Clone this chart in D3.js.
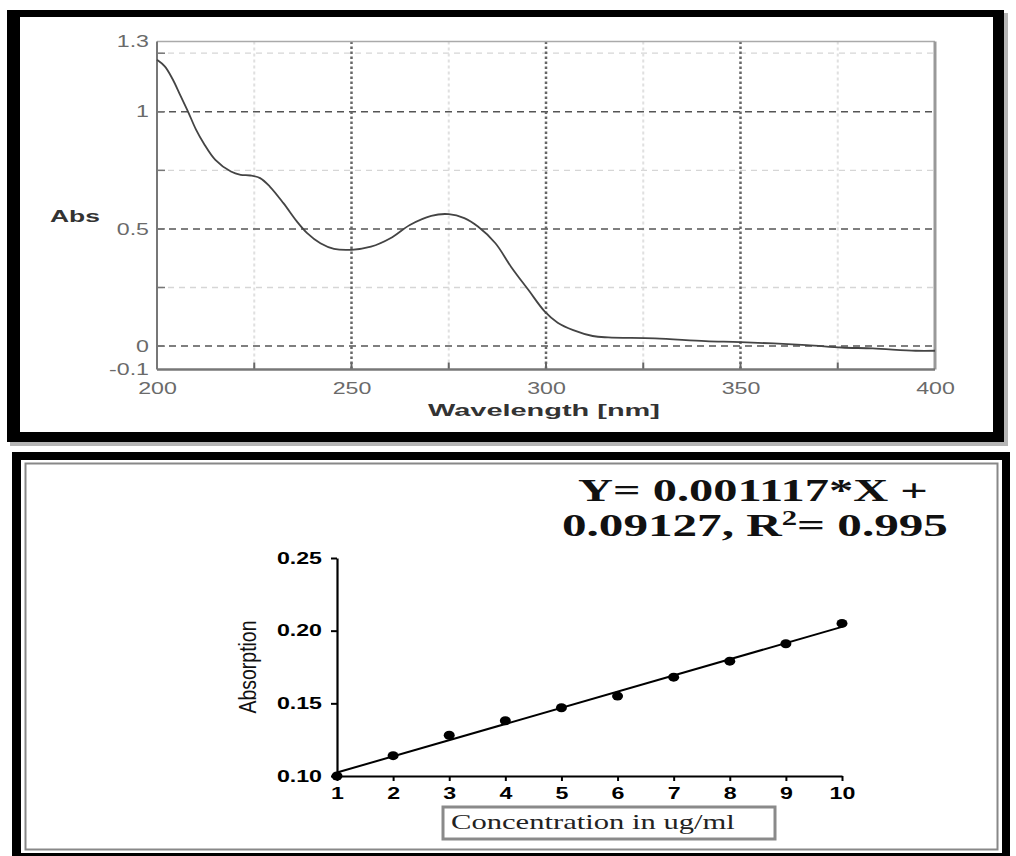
<!DOCTYPE html>
<html>
<head>
<meta charset="utf-8">
<script src="https://cdn.jsdelivr.net/npm/d3@7"></script>
<style>
  html, body { margin: 0; padding: 0; background: #fff; }
  svg { display: block; }
</style>
</head>
<body>
<svg id="chart" width="1016" height="856"></svg>
<script>
// ---- UV absorption spectrum ----
const wavelengths = [200, 202, 204, 206, 208, 210, 212, 215, 219, 221.5, 224, 226.5, 229, 232.5, 236, 238.6,
  242, 245.5, 250, 255, 260, 265, 270.5, 275, 279, 282.5, 287, 291, 295.5, 299.7, 303, 307, 312, 316,
  328, 341, 350, 367, 376, 384, 395, 400];
const absorbance = [1.222, 1.194, 1.14, 1.07, 1.0, 0.925, 0.866, 0.795, 0.745, 0.731, 0.728, 0.717, 0.681,
  0.610, 0.531, 0.482, 0.439, 0.415, 0.411, 0.424, 0.460, 0.517, 0.556, 0.563, 0.546, 0.510, 0.439, 0.339,
  0.239, 0.147, 0.100, 0.068, 0.043, 0.037, 0.033, 0.021, 0.017, 0.004, -0.006, -0.010, -0.020, -0.020];
const specXTicks = [200, 250, 300, 350, 400];
const specYTicks = [1.3, 1, 0.5, 0, -0.1];
const specMajorY = [1, 0.5, 0];
const specMinorY = [1.25, 0.75, 0.25];
const specMajorX = [250, 300, 350];
const specMinorX = [225, 275, 325, 375];

// ---- Calibration curve ----
const concentrations = [1, 2, 3, 4, 5, 6, 7, 8, 9, 10];
const absorptions = [0.100, 0.114, 0.128, 0.138, 0.147, 0.155, 0.168, 0.179, 0.191, 0.205];
const calYTicks = [0.10, 0.15, 0.20, 0.25];
const equationLine1 = "Y= 0.001117*X +";
const equationLine2 = ["0.09127, R", "2", "= 0.995"];

const SX = 1.45; // horizontal widening applied to lettering

const svg = d3.select("#chart");

// scale a text element horizontally so it spans the given width
function fitText(sel, x, y, width) {
  const n = sel.node();
  const w = n.getComputedTextLength();
  const s = width / w;
  sel.attr("x", 0).attr("y", 0).attr("transform", `translate(${x},${y}) scale(${s},1)`);
}
function widenTicks(g) {
  g.selectAll(".tick text").each(function () {
    const t = d3.select(this);
    const x = +t.attr("x") || 0;
    t.attr("x", x / SX).attr("transform", `scale(${SX},1)`);
  });
}

// ================= Top panel: spectrum =================
svg.append("rect").attr("x", 10).attr("y", 13).attr("width", 998).attr("height", 433).attr("fill", "#b5b5b5");
svg.append("rect").attr("x", 7).attr("y", 10).attr("width", 997).attr("height", 432).attr("fill", "#000");
svg.append("rect").attr("x", 20).attr("y", 17).attr("width", 973).attr("height", 415).attr("fill", "#fff");

const sx = d3.scaleLinear().domain([200, 400]).range([157, 935]);
const sy = d3.scaleLinear().domain([-0.1, 1.3]).range([369.5, 41.5]);
const specG = svg.append("g");

// faint grid
specG.selectAll(".minY").data(specMinorY).enter().append("line")
  .attr("x1", sx(200)).attr("x2", sx(400)).attr("y1", d => sy(d)).attr("y2", d => sy(d))
  .attr("stroke", "#d6d6d6").attr("stroke-width", 1.3).attr("stroke-dasharray", "6,5");
specG.selectAll(".minX").data(specMinorX).enter().append("line")
  .attr("x1", d => sx(d)).attr("x2", d => sx(d)).attr("y1", sy(1.3)).attr("y2", sy(-0.1))
  .attr("stroke", "#e0e0e0").attr("stroke-width", 2).attr("stroke-dasharray", "3,3");
// main grid
specG.selectAll(".majY").data(specMajorY).enter().append("line")
  .attr("x1", sx(200)).attr("x2", sx(400)).attr("y1", d => sy(d)).attr("y2", d => sy(d))
  .attr("stroke", "#555").attr("stroke-width", 1.5).attr("stroke-dasharray", "7,5");
specG.selectAll(".majX").data(specMajorX).enter().append("line")
  .attr("x1", d => sx(d)).attr("x2", d => sx(d)).attr("y1", sy(1.3)).attr("y2", sy(-0.1))
  .attr("stroke", "#666").attr("stroke-width", 2.5).attr("stroke-dasharray", "2.5,2.5");

// inner ticks
specG.selectAll(".tkY").data(specMajorY.concat(specMinorY)).enter().append("line")
  .attr("x1", sx(200)).attr("x2", sx(200) + 8).attr("y1", d => sy(d)).attr("y2", d => sy(d))
  .attr("stroke", "#777").attr("stroke-width", 1.5);
specG.selectAll(".tkX").data(specMajorX.concat(specMinorX)).enter().append("line")
  .attr("x1", d => sx(d)).attr("x2", d => sx(d)).attr("y1", sy(-0.1)).attr("y2", sy(-0.1) - 7)
  .attr("stroke", "#666").attr("stroke-width", 2);

// plot frame
specG.append("line").attr("x1", sx(200)).attr("x2", sx(400)).attr("y1", sy(1.3)).attr("y2", sy(1.3))
  .attr("stroke", "#aaa").attr("stroke-width", 1.5);
specG.append("line").attr("x1", sx(400)).attr("x2", sx(400)).attr("y1", sy(1.3)).attr("y2", sy(-0.1))
  .attr("stroke", "#999").attr("stroke-width", 3);
specG.append("line").attr("x1", sx(200)).attr("x2", sx(200)).attr("y1", sy(1.3)).attr("y2", sy(-0.1))
  .attr("stroke", "#777").attr("stroke-width", 2);
specG.append("line").attr("x1", sx(200)).attr("x2", sx(400)).attr("y1", sy(-0.1)).attr("y2", sy(-0.1))
  .attr("stroke", "#777").attr("stroke-width", 2.5);

// spectrum curve
const spec = wavelengths.map((w, i) => [w, absorbance[i]]);
specG.append("path").datum(spec)
  .attr("d", d3.line().x(d => sx(d[0])).y(d => sy(d[1])).curve(d3.curveCatmullRom.alpha(0.5)))
  .attr("fill", "none").attr("stroke", "#444").attr("stroke-width", 1.8);

// axis labels
const tyAxis = specG.append("g").attr("transform", `translate(${sx(200)},0)`)
  .call(d3.axisLeft(sy).tickValues(specYTicks).tickSize(0).tickPadding(8).tickFormat(d => String(d)));
const txAxis = specG.append("g").attr("transform", `translate(0,${sy(-0.1)})`)
  .call(d3.axisBottom(sx).tickValues(specXTicks).tickSize(0).tickPadding(13).tickFormat(d => String(d)));
[tyAxis, txAxis].forEach(g => {
  g.select(".domain").remove();
  g.selectAll("text").attr("font-family", "Liberation Sans, Arial, sans-serif")
    .attr("font-size", 16).attr("fill", "#6a6a6a");
  widenTicks(g);
});

const absLabel = specG.append("text").text("Abs")
  .attr("font-family", "Liberation Sans, Arial, sans-serif").attr("font-size", 16)
  .attr("font-weight", "bold").attr("fill", "#333");
fitText(absLabel, 50, 222, 50);
const wlLabel = specG.append("text").text("Wavelength [nm]")
  .attr("font-family", "Liberation Sans, Arial, sans-serif").attr("font-size", 17)
  .attr("font-weight", "bold").attr("fill", "#333");
fitText(wlLabel, 428, 416, 232);

// ================= Bottom panel: calibration =================
svg.append("rect").attr("x", 12).attr("y", 452).attr("width", 998).attr("height", 410).attr("fill", "#000");
svg.append("rect").attr("x", 21).attr("y", 460).attr("width", 981).attr("height", 393).attr("fill", "#fff");
svg.append("rect").attr("x", 25.5).attr("y", 463.5).attr("width", 972).attr("height", 386)
  .attr("fill", "none").attr("stroke", "#888").attr("stroke-width", 2);

const cx = d3.scaleLinear().domain([1, 10]).range([337, 842]);
const cy = d3.scaleLinear().domain([0.10, 0.25]).range([776, 558]);
const calG = svg.append("g");

// least-squares line through the standards
const mx = d3.mean(concentrations), my = d3.mean(absorptions);
const slope = d3.sum(concentrations, (c, i) => (c - mx) * (absorptions[i] - my)) /
  d3.sum(concentrations, c => (c - mx) * (c - mx));
const intercept = my - slope * mx;
const xr = d3.extent(concentrations);
calG.append("line")
  .attr("x1", cx(xr[0])).attr("y1", cy(intercept + slope * xr[0]))
  .attr("x2", cx(xr[1])).attr("y2", cy(intercept + slope * xr[1]))
  .attr("stroke", "#000").attr("stroke-width", 2);

const cxAxis = calG.append("g").attr("transform", `translate(0,${cy(0.10)})`)
  .call(d3.axisBottom(cx).tickValues(concentrations).tickSize(5).tickSizeOuter(0).tickPadding(7)
    .tickFormat(d3.format("d")));
const cyAxis = calG.append("g").attr("transform", `translate(${cx(1)},0)`)
  .call(d3.axisLeft(cy).tickValues(calYTicks).tickSize(6).tickSizeOuter(0).tickPadding(9)
    .tickFormat(d3.format(".2f")));
[cxAxis, cyAxis].forEach(g => {
  g.select(".domain").attr("stroke", "#000").attr("stroke-width", 2.2);
  g.selectAll(".tick line").attr("stroke", "#000").attr("stroke-width", 2);
  g.selectAll("text").attr("font-family", "Liberation Sans, Arial, sans-serif")
    .attr("font-size", 16).attr("font-weight", "bold").attr("fill", "#000");
  widenTicks(g);
});

calG.selectAll(".pt").data(concentrations).enter().append("ellipse")
  .attr("cx", d => cx(d)).attr("cy", (d, i) => cy(absorptions[i]))
  .attr("rx", 5.5).attr("ry", 4.5).attr("fill", "#000");

calG.append("text").text("Absorption")
  .attr("font-family", "Liberation Sans, Arial, sans-serif").attr("font-size", 19)
  .attr("fill", "#111").attr("text-anchor", "middle")
  .attr("textLength", 93).attr("lengthAdjust", "spacingAndGlyphs")
  .attr("transform", "translate(256,667) scale(1.3,1) rotate(-90)");

// x-axis caption in a box
calG.append("rect").attr("x", 443).attr("y", 807).attr("width", 332).attr("height", 32)
  .attr("fill", "#fff").attr("stroke", "#8a8a8a").attr("stroke-width", 3);
const concLabel = calG.append("text").text("Concentration in ug/ml")
  .attr("font-family", "Liberation Serif, Times New Roman, serif").attr("font-size", 20).attr("fill", "#222");
fitText(concLabel, 451, 829, 284);

// regression equation
const eq1 = calG.append("text").text(equationLine1)
  .attr("font-family", "Liberation Serif, Times New Roman, serif").attr("font-size", 32)
  .attr("font-weight", "bold").attr("fill", "#111");
fitText(eq1, 578, 501, 350);
const eq2 = calG.append("text")
  .attr("font-family", "Liberation Serif, Times New Roman, serif").attr("font-size", 32)
  .attr("font-weight", "bold").attr("fill", "#111");
eq2.append("tspan").text(equationLine2[0]);
eq2.append("tspan").text(equationLine2[1]).attr("font-size", 20).attr("dy", -11);
eq2.append("tspan").text(equationLine2[2]).attr("dy", 11);
fitText(eq2, 562, 536, 386);
</script>
</body>
</html>
